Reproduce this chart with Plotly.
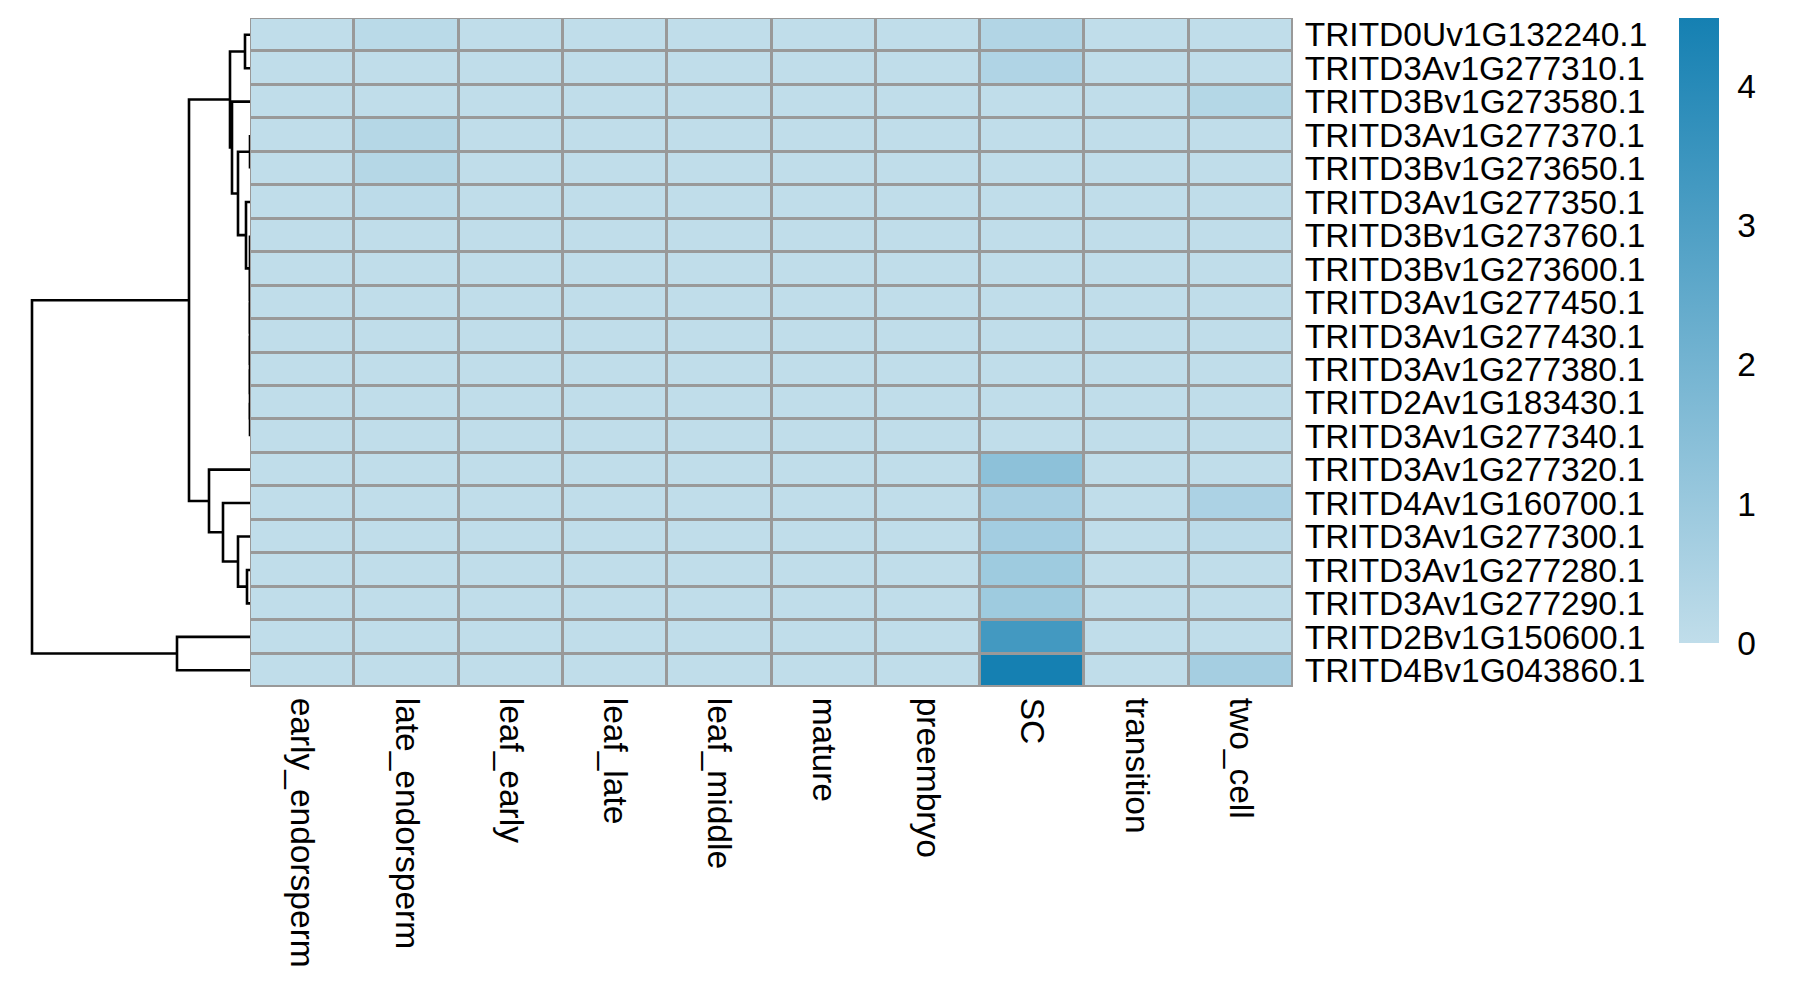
import plotly.graph_objects as go

# ---------------- data ----------------
rows = [
    "TRITD0Uv1G132240.1", "TRITD3Av1G277310.1", "TRITD3Bv1G273580.1", "TRITD3Av1G277370.1",
    "TRITD3Bv1G273650.1", "TRITD3Av1G277350.1", "TRITD3Bv1G273760.1", "TRITD3Bv1G273600.1",
    "TRITD3Av1G277450.1", "TRITD3Av1G277430.1", "TRITD3Av1G277380.1", "TRITD2Av1G183430.1",
    "TRITD3Av1G277340.1", "TRITD3Av1G277320.1", "TRITD4Av1G160700.1", "TRITD3Av1G277300.1",
    "TRITD3Av1G277280.1", "TRITD3Av1G277290.1", "TRITD2Bv1G150600.1", "TRITD4Bv1G043860.1",
]
cols = ["early_endorsperm", "late_endorsperm", "leaf_early", "leaf_late", "leaf_middle",
        "mature", "preembryo", "SC", "transition", "two_cell"]

early_endorsperm = [0, 0, 0, 0, 0, 0, 0, 0, 0, 0, 0, 0, 0, 0, 0, 0, 0, 0, 0, 0]
late_endorsperm  = [0.16, 0, 0, 0.29, 0.29, 0.10, 0, 0, 0, 0, 0, 0, 0, 0, 0, 0, 0, 0, 0, 0]
leaf_early       = [0, 0, 0, 0, 0, 0, 0, 0, 0, 0, 0, 0, 0, 0, 0, 0, 0, 0, 0, 0]
leaf_late        = [0, 0, 0, 0, 0, 0, 0, 0, 0, 0, 0, 0, 0, 0, 0, 0, 0, 0, 0, 0]
leaf_middle      = [0, 0, 0, 0, 0, 0, 0, 0, 0, 0, 0, 0, 0, 0, 0, 0, 0, 0, 0, 0]
mature           = [0, 0, 0, 0, 0, 0, 0, 0, 0, 0, 0, 0, 0, 0, 0, 0, 0, 0, 0, 0]
preembryo        = [0, 0, 0, 0, 0, 0, 0, 0, 0, 0, 0, 0, 0, 0, 0, 0, 0, 0, 0, 0]
SC               = [0.37, 0.42, 0, 0, 0, 0, 0, 0, 0, 0, 0, 0, 0, 1.34, 0.66, 0.76, 0.89, 0.89, 3.28, 4.49]
transition       = [0, 0, 0, 0, 0, 0, 0, 0, 0, 0, 0, 0, 0, 0, 0, 0, 0, 0, 0, 0]
two_cell         = [0, 0, 0.31, 0, 0, 0, 0, 0, 0, 0, 0, 0, 0, 0, 0.52, 0.10, 0, 0, 0, 0.71]

series = [early_endorsperm, late_endorsperm, leaf_early, leaf_late, leaf_middle,
          mature, preembryo, SC, transition, two_cell]

# hierarchical clustering of rows (hclust-style merge table: negative = leaf, positive = earlier merge)
merge_a = [-12, -11, -10, -9, -8, -7, -4, -17, -1, -6, -16, 7, -3, 9, -15, -14, 14, -19, 17]
merge_b = [-13, 1, 2, 3, 4, 5, -5, -18, -2, 6, 8, 10, 12, 13, 11, 15, 16, -20, 18]
merge_h = [0, 0, 0, 0, 0, 0, 0, 0.06, 0.10, 0.08, 0.24, 0.24, 0.36, 0.40, 0.54, 0.82, 1.22, 1.46, 4.36]

colorbar_ticks = [0, 1, 2, 3, 4]

# ---------------- figure ----------------
OFF = 8                      # page body margin
W, H = 1797 - 2 * OFF, 999 - 2 * OFF
FONT = "Liberation Sans, Arial, Helvetica, sans-serif"
FS = 33.5

def px(x):
    return (x - OFF) / W

def py(y):
    return 1 - (y - OFF) / H

z = [[series[j][i] for j in range(len(cols))] for i in range(len(rows))]
zmax = max(max(r) for r in z)

# dendrogram segments
dx, dy = [], []
pos = {}
def child(c):
    if c < 0:
        return (-c - 1, 0.0)
    return pos[c]
for k, (a, b, h) in enumerate(zip(merge_a, merge_b, merge_h), start=1):
    ya, ha = child(a)
    yb, hb = child(b)
    dx += [ha, h, h, hb, None]
    dy += [ya, ya, yb, yb, None]
    pos[k] = ((ya + yb) / 2.0, h)

fig = go.Figure()

fig.add_trace(go.Heatmap(
    z=z, x=list(range(len(cols))), y=list(range(len(rows))),
    zmin=0, zmax=zmax,
    colorscale=[[0, "#C0DDEA"], [1, "#1580B2"]],
    xgap=3, ygap=3,
    xaxis="x", yaxis="y",
    hoverinfo="skip",
    colorbar=dict(
        x=px(1679), xanchor="left",
        y=py(18), yanchor="top",
        len=625 / H, lenmode="fraction",
        thickness=40, thicknessmode="pixels",
        outlinewidth=0, xpad=0, ypad=0,
        tickvals=colorbar_ticks,
        ticks="outside", ticklen=12, tickcolor="rgba(0,0,0,0)",
        tickfont=dict(family=FONT, size=FS, color="black"),
    ),
))

fig.add_trace(go.Scatter(
    x=dx, y=dy, mode="lines",
    line=dict(color="black", width=2.6),
    xaxis="x2", yaxis="y",
    hoverinfo="skip", showlegend=False,
))

x0, x1 = px(250), px(1293)
y0, y1 = py(687), py(18)

fig.update_layout(
    width=W, height=H,
    margin=dict(l=0, r=0, t=0, b=0),
    paper_bgcolor="white", plot_bgcolor="white",
    showlegend=False,
    xaxis=dict(
        domain=[x0, x1], range=[-0.5, len(cols) - 0.5], anchor="y",
        tickvals=list(range(len(cols))), ticktext=cols, tickangle=90,
        ticks="outside", ticklen=3, tickcolor="rgba(0,0,0,0)",
        tickfont=dict(family=FONT, size=FS, color="black"),
        showgrid=False, zeroline=False, showline=False, automargin=False,
    ),
    yaxis=dict(
        domain=[y0, y1], range=[len(rows) - 0.5, -0.5], anchor="x", side="right",
        tickvals=list(range(len(rows))), ticktext=rows,
        ticks="outside", ticklen=4, tickcolor="rgba(0,0,0,0)",
        tickfont=dict(family=FONT, size=FS, color="black"),
        showgrid=False, zeroline=False, showline=False, automargin=False,
    ),
    xaxis2=dict(
        domain=[0, x0], range=[(250 - OFF) * 0.02, 0], anchor="y",
        visible=False, showgrid=False, zeroline=False,
    ),
    shapes=[dict(
        type="rect", xref="x", yref="y",
        x0=-0.5, x1=len(cols) - 0.5, y0=-0.5, y1=len(rows) - 0.5,
        fillcolor="#999999", line=dict(color="#999999", width=1.5), layer="below",
    )],
)

fig.write_html("out.html")
